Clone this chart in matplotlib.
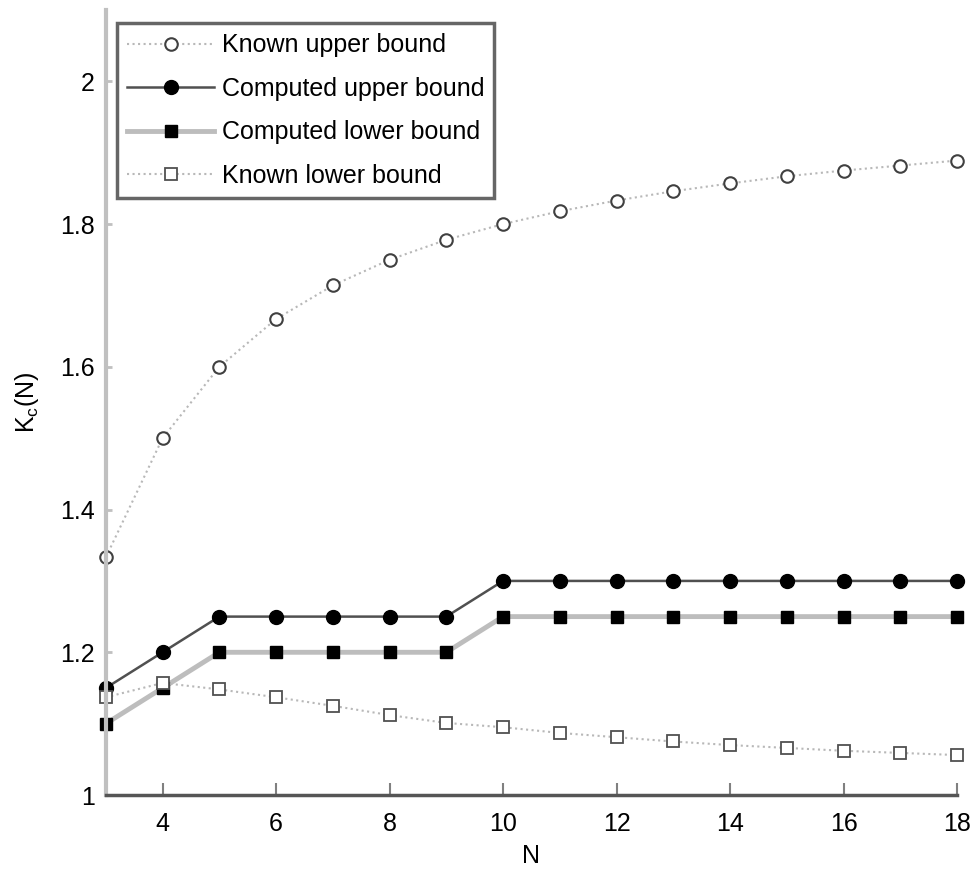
import matplotlib
matplotlib.use("Agg")
import matplotlib.pyplot as plt
from matplotlib import font_manager

# pick a narrow font if there is one
names = set(f.name for f in font_manager.fontManager.ttflist)
fam = ["Liberation Sans Narrow", "Liberation Sans", "DejaVu Sans"]
fam = [f for f in fam if f in names] or ["DejaVu Sans"]
plt.rcParams['font.family'] = fam

N = [3, 4, 5, 6, 7, 8, 9, 10, 11, 12, 13, 14, 15, 16, 17, 18]
known_upper = [1.333, 1.5, 1.6, 1.667, 1.714, 1.75, 1.778, 1.8, 1.818, 1.833,
               1.846, 1.857, 1.867, 1.875, 1.882, 1.889]
comp_upper = [1.15, 1.2, 1.25, 1.25, 1.25, 1.25, 1.25, 1.3, 1.3, 1.3,
              1.3, 1.3, 1.3, 1.3, 1.3, 1.3]
comp_lower = [1.1, 1.15, 1.2, 1.2, 1.2, 1.2, 1.2, 1.25, 1.25, 1.25,
              1.25, 1.25, 1.25, 1.25, 1.25, 1.25]
known_lower = [1.137, 1.157, 1.148, 1.137, 1.125, 1.112, 1.101, 1.095, 1.087, 1.081,
               1.075, 1.070, 1.066, 1.062, 1.059, 1.056]

fig = plt.figure(figsize=(9.71, 8.75), dpi=100)
ax = fig.add_axes([0.109, 0.0914, 0.8766, 0.8972])

ax.plot(N, known_upper, linestyle=':', color='#b8b8b8', lw=1.5, marker='o', ms=9,
        mfc='white', mec='#404040', mew=1.5, label='Known upper bound', clip_on=False)
ax.plot(N, comp_upper, linestyle='-', color='#505050', lw=1.8, marker='o', ms=10,
        mfc='black', mec='black', label='Computed upper bound', clip_on=False)
ax.plot(N, comp_lower, linestyle='-', color='#bdbdbd', lw=3.5, marker='s', ms=8,
        mfc='black', mec='black', label='Computed lower bound', clip_on=False)
ax.plot(N, known_lower, linestyle=':', color='#b8b8b8', lw=1.5, marker='s', ms=8,
        mfc='white', mec='#505050', mew=1.3, label='Known lower bound', clip_on=False)

ax.set_xlim(3, 18)
ax.set_ylim(1, 2.1)
ax.set_xticks([4, 6, 8, 10, 12, 14, 16, 18])
ax.set_yticks([1, 1.2, 1.4, 1.6, 1.8, 2])
ax.set_yticklabels(['1', '1.2', '1.4', '1.6', '1.8', '2'])

ax.spines['top'].set_visible(False)
ax.spines['right'].set_visible(False)
ax.spines['left'].set_color('#c0c0c0')
ax.spines['left'].set_linewidth(3)
ax.spines['bottom'].set_color('#555555')
ax.spines['bottom'].set_linewidth(2.5)
ax.tick_params(axis='x', direction='in', length=9, width=1.5, color='#808080',
               labelsize=18, pad=12)
ax.tick_params(axis='y', direction='in', length=4, width=2, color='#c0c0c0',
               labelsize=18, pad=8)

ax.set_xlabel('N', fontsize=18, labelpad=6)
ax.set_ylabel(r'K$_\mathregular{c}$(N)', fontsize=18, labelpad=14)

leg = ax.legend(loc='upper left', bbox_to_anchor=(0.013, 0.983), fontsize=18,
                frameon=True, fancybox=False, handlelength=3.5, handletextpad=0.3,
                borderpad=0.4, labelspacing=0.78, borderaxespad=0)
leg.get_frame().set_edgecolor('#404040')
leg.get_frame().set_linewidth(2.5)

fig.savefig('out.png', dpi=100)
